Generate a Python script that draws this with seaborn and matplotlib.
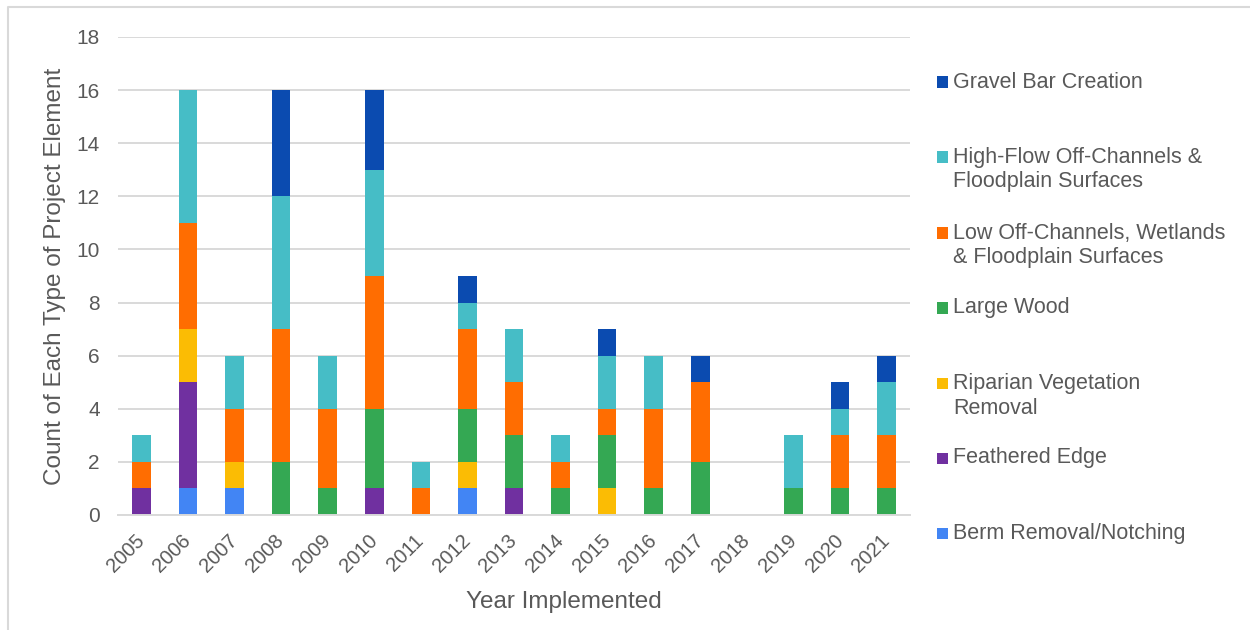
import numpy as np
import matplotlib
matplotlib.use('Agg')
import matplotlib.pyplot as plt
import seaborn as sns
from matplotlib.patches import Rectangle
from matplotlib.lines import Line2D

# ---------------- data ----------------
years = [str(y) for y in range(2005, 2022)]

# bottom of the stack first
categories = ['Berm Removal/Notching', 'Feathered Edge', 'Riparian Vegetation\nRemoval',
              'Large Wood', 'Low Off-Channels, Wetlands\n& Floodplain Surfaces',
              'High-Flow Off-Channels &\nFloodplain Surfaces', 'Gravel Bar Creation']
#           2005 06 07 08 09 10 11 12 13 14 15 16 17 18 19 20 21
berm      = [0, 1, 1, 0, 0, 0, 0, 1, 0, 0, 0, 0, 0, 0, 0, 0, 0]
feathered = [1, 4, 0, 0, 0, 1, 0, 0, 1, 0, 0, 0, 0, 0, 0, 0, 0]
riparian  = [0, 2, 1, 0, 0, 0, 0, 1, 0, 0, 1, 0, 0, 0, 0, 0, 0]
large_wood = [0, 0, 0, 2, 1, 3, 0, 2, 2, 1, 2, 1, 2, 0, 1, 1, 1]
low_off   = [1, 4, 2, 5, 3, 5, 1, 3, 2, 1, 1, 3, 3, 0, 0, 2, 2]
high_flow = [1, 5, 2, 5, 2, 4, 1, 1, 2, 1, 2, 2, 0, 0, 2, 1, 2]
gravel    = [0, 0, 0, 4, 0, 3, 0, 1, 0, 0, 1, 0, 1, 0, 0, 1, 1]

series = [berm, feathered, riparian, large_wood, low_off, high_flow, gravel]
colors = ['#4285F4', '#7030A0', '#FBBC04', '#34A853', '#FF6D01', '#46BDC6', '#0B4BB0']

# ---------------- style ----------------
sns.set_style('white')
plt.rcParams['font.family'] = ['Liberation Sans', 'DejaVu Sans']
txt_color = '#595959'
grid_color = '#d9d9d9'

fig = plt.figure(figsize=(12.5, 6.3), dpi=100)
ax = fig.add_axes([118/1250, 1-515/630, 792/1250, 478/630])

cum = np.cumsum(np.array(series), axis=0)
# draw tallest cumulative first so lower segments sit on top
for i in range(len(series)-1, -1, -1):
    sns.barplot(x=years, y=cum[i], color=colors[i], saturation=1, width=0.4,
                linewidth=0, ax=ax, zorder=2)

ax.set_ylim(0, 18)
ax.set_yticks(range(0, 19, 2))
ax.yaxis.grid(True, color=grid_color, lw=1.4, zorder=0)
ax.set_axisbelow(True)
for s in ['top', 'right', 'left']:
    ax.spines[s].set_visible(False)
ax.spines['bottom'].set_color(grid_color)
ax.spines['bottom'].set_linewidth(1.4)
ax.tick_params(axis='both', length=0, colors=txt_color)
ax.tick_params(axis='y', labelsize=15, pad=13)
ax.tick_params(axis='x', labelsize=14.5, pad=16)
for lab in ax.get_xticklabels():
    lab.set_rotation(45)
    lab.set_ha('right')
    lab.set_va('center')
    lab.set_rotation_mode('anchor')

ax.set_xlabel('Year Implemented', fontsize=17.5, color=txt_color)
ax.set_ylabel('Count of Each Type of Project Element', fontsize=17.5, color=txt_color)
ax.xaxis.set_label_coords(0.563, -0.158)
ax.yaxis.set_label_coords(-0.066, 0.5)

# ---------------- legend (Gravel on top) ----------------
first_line_y = [82, 157, 233, 308, 383, 458, 533]
for k, i in enumerate(range(len(series)-1, -1, -1)):
    yc = first_line_y[k]
    fig.add_artist(Rectangle((937/1250, 1-(yc+5.5)/630), 11/1250, 11/630,
                             transform=fig.transFigure, color=colors[i], lw=0))
    for j, line in enumerate(categories[i].split('\n')):
        fig.text(953/1250, 1-(yc+25*j)/630, line, fontsize=15.5, color=txt_color,
                 ha='left', va='center')

# light frame (left and top edges)
fig.add_artist(Line2D([8/1250, 8/1250, 1], [0, 1-7/630, 1-7/630],
                      transform=fig.transFigure, color=grid_color, lw=1.5))

fig.savefig('out.png', dpi=100, facecolor='white')
